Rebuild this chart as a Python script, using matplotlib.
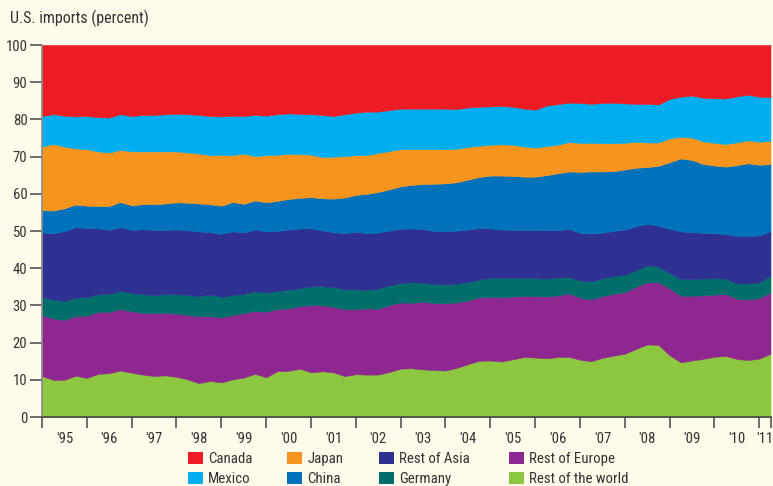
import numpy as np
import matplotlib
matplotlib.use("Agg")
import matplotlib.pyplot as plt
import matplotlib.font_manager as fm
from matplotlib.patches import Patch
from matplotlib.ticker import FixedLocator, FixedFormatter, NullFormatter

# ---------------- data (quarterly, 1995Q1 .. 2011Q2) ----------------
# Upper edge of each band (cumulative percent)
start_year = 1995
n_quarters = 66

upper_rest_of_world = [
    11.0, 10.0, 10.0, 11.1, 10.5, 11.6, 11.8, 12.5, 11.9, 11.4, 11.0, 11.2, 10.8, 10.1, 9.1, 9.7,
    9.3, 10.1, 10.6, 11.6, 10.7, 12.3, 12.4, 13.0, 12.0, 12.3, 12.0, 11.0, 11.5, 11.4, 11.4, 12.1,
    13.0, 13.1, 12.8, 12.6, 12.5, 13.2, 14.2, 15.1, 15.2, 14.9, 15.5, 16.1, 16.0, 15.8, 16.1, 16.2,
    15.4, 15.0, 15.9, 16.5, 17.0, 18.3, 19.5, 19.4, 16.6, 14.7, 15.2, 15.6, 16.2, 16.4, 15.6, 15.3,
    15.7, 17.0]
upper_rest_of_europe = [
    27.4, 26.5, 26.1, 27.2, 27.2, 28.3, 28.3, 29.0, 28.4, 28.0, 28.0, 28.0, 27.8, 27.4, 27.1, 27.1,
    26.8, 27.4, 27.9, 28.5, 28.3, 29.0, 29.2, 29.8, 30.1, 30.0, 29.6, 29.0, 29.0, 29.2, 29.1, 30.1,
    30.8, 30.7, 31.0, 30.6, 30.6, 30.8, 31.3, 32.2, 32.3, 32.2, 32.4, 32.5, 32.5, 32.4, 32.7, 33.2,
    32.1, 31.6, 32.5, 33.1, 33.6, 35.0, 36.2, 36.2, 34.6, 32.6, 32.6, 32.7, 32.9, 33.1, 31.8, 31.6,
    32.0, 33.5]
upper_germany = [
    32.2, 31.6, 31.2, 32.1, 32.2, 33.0, 33.1, 33.9, 33.3, 33.0, 32.8, 33.0, 33.0, 32.8, 32.5, 32.9,
    32.3, 32.8, 33.1, 33.8, 33.5, 33.9, 34.2, 34.6, 35.1, 35.2, 34.9, 34.3, 34.3, 34.2, 34.5, 35.4,
    36.0, 36.2, 36.1, 35.8, 35.7, 35.8, 36.3, 36.9, 37.4, 37.4, 37.4, 37.4, 37.3, 37.2, 37.5, 37.6,
    36.7, 36.5, 37.2, 37.9, 38.2, 39.4, 40.8, 40.4, 38.7, 37.1, 37.1, 37.2, 37.3, 37.2, 35.9, 35.9,
    36.2, 38.0]
upper_rest_of_asia = [
    49.6, 49.4, 50.0, 51.0, 50.8, 50.7, 50.3, 51.0, 50.3, 50.5, 50.3, 50.3, 50.4, 50.2, 49.9, 49.7,
    49.2, 49.9, 49.6, 50.4, 49.9, 50.0, 50.4, 50.7, 50.7, 50.2, 49.7, 49.4, 49.8, 49.4, 49.6, 50.1,
    50.6, 50.7, 50.5, 50.0, 50.0, 50.1, 50.4, 50.8, 50.7, 50.4, 50.3, 50.3, 50.3, 50.2, 50.2, 50.6,
    49.5, 49.3, 49.6, 50.0, 50.4, 51.3, 51.9, 51.4, 50.6, 49.9, 49.7, 49.5, 49.4, 49.2, 48.7, 48.7,
    48.8, 50.0]
upper_china = [
    55.6, 55.5, 56.1, 57.1, 56.8, 56.7, 56.7, 57.8, 56.9, 57.2, 57.2, 57.4, 57.7, 57.6, 57.4, 57.2,
    56.8, 57.8, 57.3, 58.2, 57.7, 58.1, 58.6, 58.9, 59.1, 58.8, 58.7, 59.0, 59.7, 60.0, 60.5, 61.2,
    62.0, 62.4, 62.6, 62.7, 62.8, 63.1, 63.8, 64.5, 64.9, 64.9, 64.8, 64.6, 64.6, 65.0, 65.5, 66.0,
    65.9, 66.0, 66.0, 66.1, 66.5, 67.0, 67.2, 67.5, 68.5, 69.5, 69.1, 68.0, 67.6, 67.3, 67.7, 68.2,
    67.8, 68.0]
upper_japan = [
    72.7, 73.4, 72.7, 72.2, 72.0, 71.4, 71.1, 71.8, 71.4, 71.4, 71.4, 71.4, 71.4, 71.1, 70.8, 70.4,
    70.5, 70.4, 70.8, 70.1, 70.4, 70.5, 70.7, 70.7, 70.5, 69.9, 70.0, 70.1, 70.4, 70.4, 71.0, 71.5,
    72.0, 72.0, 72.0, 72.0, 72.0, 72.1, 72.6, 72.9, 73.2, 73.3, 73.2, 72.7, 72.4, 72.8, 73.2, 73.9,
    73.7, 73.7, 73.6, 73.6, 73.7, 74.0, 73.8, 73.8, 74.9, 75.3, 75.1, 74.1, 73.7, 73.4, 73.8, 74.4,
    74.0, 74.2]
upper_mexico = [
    80.9, 81.4, 81.0, 80.8, 80.9, 80.6, 80.5, 81.4, 80.9, 81.2, 81.2, 81.4, 81.5, 81.4, 81.2, 80.9,
    80.8, 81.0, 80.9, 81.2, 81.0, 81.4, 81.6, 81.5, 81.4, 81.2, 80.9, 81.4, 81.8, 82.1, 82.1, 82.5,
    82.9, 82.9, 82.9, 82.9, 82.9, 82.8, 83.2, 83.4, 83.5, 83.6, 83.4, 82.9, 82.6, 83.7, 84.1, 84.5,
    84.4, 84.2, 84.4, 84.5, 84.3, 84.2, 84.2, 84.0, 85.5, 86.1, 86.4, 85.8, 85.7, 85.6, 86.2, 86.6,
    86.1, 86.0]
upper_canada = [100.0] * n_quarters

# bottom-to-top stacking order
series_names = ["Rest of the world", "Rest of Europe", "Germany", "Rest of Asia",
                "China", "Japan", "Mexico", "Canada"]
series_colors = ["#8DC63F", "#8E278F", "#006F6C", "#2E3192",
                 "#0072BC", "#F7941D", "#00AEEF", "#ED1C24"]
upper_edges = [upper_rest_of_world, upper_rest_of_europe, upper_germany, upper_rest_of_asia,
               upper_china, upper_japan, upper_mexico, upper_canada]

year_ticks = list(range(1995, 2012))
year_labels = ["'95", "'96", "'97", "'98", "'99", "'00", "'01", "'02", "'03",
               "'04", "'05", "'06", "'07", "'08", "'09", "'10", "'11"]
legend_order = ["Canada", "Mexico", "Japan", "China", "Rest of Asia", "Germany",
                "Rest of Europe", "Rest of the world"]

# ---------------- derived ----------------
x = start_year + 0.25 * np.arange(n_quarters)
edges = np.vstack([np.zeros(n_quarters)] + [np.asarray(e, float) for e in upper_edges])
shares = np.diff(edges, axis=0)

# ---------------- font: prefer a condensed sans (like Helvetica Condensed) ----------------
def _is_regular(f):
    w = f.weight
    if isinstance(w, str):
        w = {"normal": 400, "regular": 400, "book": 400, "medium": 500}.get(w.lower(), 700)
    return 350 <= int(w) <= 500 and f.style == "normal"

narrow_font = None
for pref in ["Liberation Sans Narrow", "Roboto Condensed", "Noto Sans Condensed",
             "Open Sans Condensed", "DejaVu Sans Condensed"]:
    for f in fm.fontManager.ttflist:
        if f.name == pref and _is_regular(f):
            narrow_font = (f.name, f.stretch)
            break
    if narrow_font:
        break
if narrow_font is None:
    for f in fm.fontManager.ttflist:
        if (f.stretch in ("condensed", "semi-condensed", 75, 87.5) or
                "Condensed" in f.fname or "Narrow" in f.fname) and _is_regular(f) \
                and "Mono" not in f.name and "Serif" not in f.name:
            narrow_font = (f.name, f.stretch)
            break

if narrow_font is not None:
    plt.rcParams["font.family"] = [narrow_font[0], "DejaVu Sans"]
    plt.rcParams["font.stretch"] = narrow_font[1]
    scale = 1.0
else:
    plt.rcParams["font.family"] = ["Liberation Sans", "DejaVu Sans"]
    scale = 0.88

TITLE_FS = 11.5 * scale
TICK_FS = 10.6 * scale
LEG_FS = 10.7 * scale

# ---------------- figure ----------------
BG = "#FFFBEA"
TXT = "#333333"

W, H = 773, 486
fig = plt.figure(figsize=(W / 100, H / 100), dpi=100, facecolor=BG)
ax_l, ax_r, ax_t, ax_b = 42, 770.5, 45, 417
ax = fig.add_axes([ax_l / W, 1 - ax_b / H, (ax_r - ax_l) / W, (ax_b - ax_t) / H])
ax.set_facecolor(BG)

ax.stackplot(x, shares, colors=series_colors, labels=series_names,
             edgecolor="face", linewidth=0.4)

ax.set_xlim(x[0], x[-1])
ax.set_ylim(0, 100)

# y axis
ax.set_yticks(range(0, 101, 10))
ax.tick_params(axis="y", direction="out", length=9, width=1.2, color="#555555",
               labelsize=TICK_FS, labelcolor=TXT, pad=1.5)
# x axis: tick marks at year boundaries, labels centred in the year
major_pos = year_ticks + [x[-1]]
ax.xaxis.set_major_locator(FixedLocator(major_pos))
ax.xaxis.set_major_formatter(NullFormatter())
label_pos = [y + 0.5 for y in year_ticks[:-1]] + [year_ticks[-1] + 0.12]
ax.xaxis.set_minor_locator(FixedLocator(label_pos))
ax.xaxis.set_minor_formatter(FixedFormatter(year_labels))
ax.tick_params(axis="x", which="major", direction="out", length=8, width=1.2, color="#555555")
ax.tick_params(axis="x", which="minor", length=0, labelsize=TICK_FS, labelcolor=TXT, pad=10.5)

for s in ["top", "right"]:
    ax.spines[s].set_visible(False)
ax.spines["left"].set_color("#888888")
ax.spines["left"].set_linewidth(1.2)
ax.spines["bottom"].set_color("#444444")
ax.spines["bottom"].set_linewidth(1.2)

# title
fig.text(10 / W, 1 - 18 / H, "U.S. imports (percent)", fontsize=TITLE_FS, color=TXT,
         ha="left", va="center")

# legend: four columns of two entries
color_of = dict(zip(series_names, series_colors))
col_x = [188, 287, 379, 509]
for c in range(4):
    names = legend_order[2 * c:2 * c + 2]
    handles = [Patch(facecolor=color_of[n], edgecolor="none") for n in names]
    fig.legend(handles, names, loc="upper left",
               bbox_to_anchor=(col_x[c] / W, 1 - 452 / H),
               frameon=False, fontsize=LEG_FS, labelcolor=TXT,
               handlelength=1.02, handleheight=0.88, handletextpad=0.35,
               labelspacing=0.36, borderpad=0, borderaxespad=0)

fig.savefig("out.png", dpi=100, facecolor=BG)
